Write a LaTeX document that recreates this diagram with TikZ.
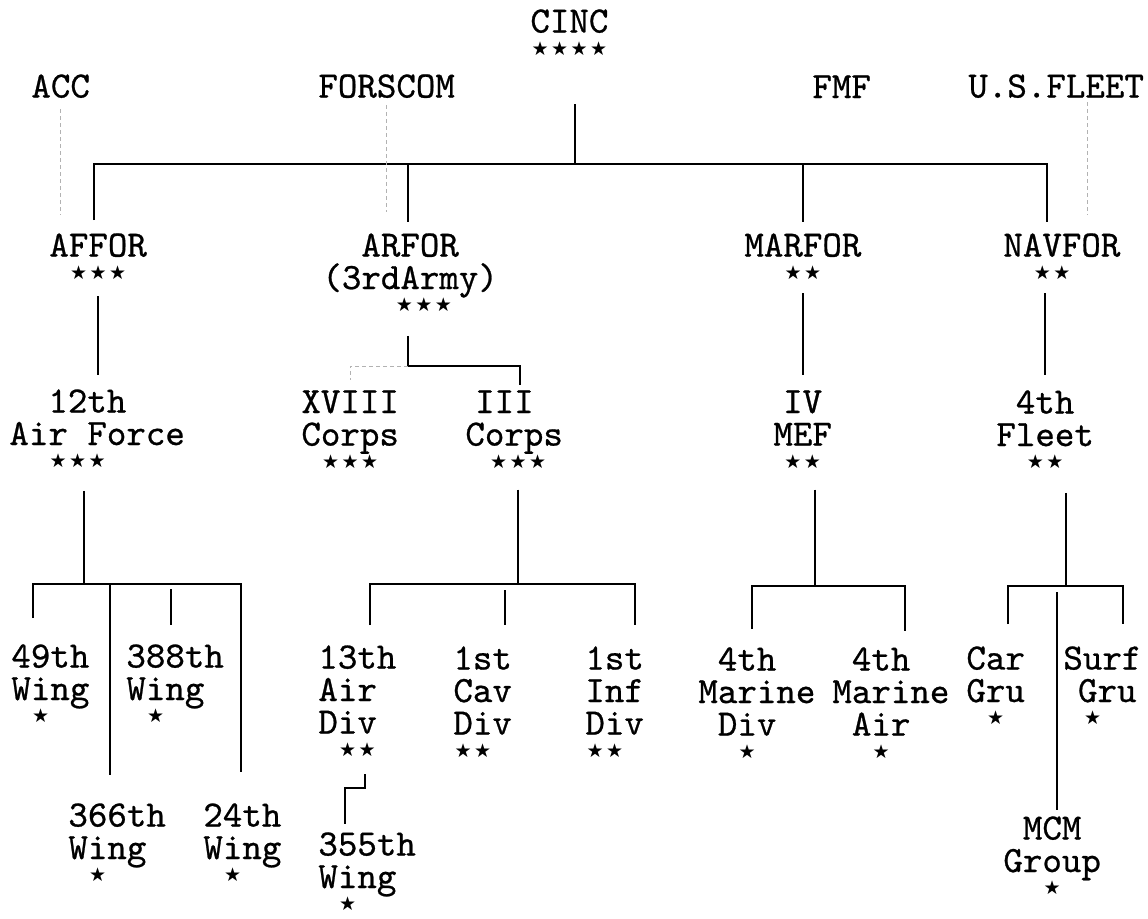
\documentclass[tikz,border=0pt]{standalone}
\usepackage{fontspec}
\newfontfamily\chartfont{lmmono10-regular.otf}[FakeBold=0.7]
\newfontfamily\starfont{DejaVu Sans}
\newlength{\cw}
\setlength{\cw}{9.75pt}
\newcommand{\cells}[1]{\hspace*{#1\cw}}
\newcommand{\rk}{\makebox[\cw]{\raisebox{4.9pt}{\fontsize{9.5}{9.5}\selectfont\starfont ★}}}

\begin{document}
\begin{tikzpicture}[x=0.5pt, y=-0.5pt,
    unit/.style={anchor=north west, inner sep=0pt, align=left, font=\chartfont\fontsize{18.57}{16.25}\selectfont},
    ln/.style={line width=1.2pt},
    dsh/.style={gray!60, line width=0.5pt, dash pattern=on 2pt off 1.5pt}]
  \useasboundingbox (0,0) rectangle (1148,918);

  \node[unit] (cinc) at (530,9) {CINC\\\rk\rk\rk\rk};
  \node[unit] (acc) at (31,74) {ACC};
  \node[unit] (forscom) at (318,74) {FORSCOM};
  \node[unit] (fmf) at (812,75) {FMF};
  \node[unit] (usfleet) at (968,74) {U.S.FLEET};

  \node[unit] (affor) at (49,233) {AFFOR\\\cells{1}\rk\rk\rk};
  \node[unit] (arfor) at (322,233) {\cells{2}ARFOR\\(3rdArmy)\\\cells{3.7}\rk\rk\rk};
  \node[unit] (marfor) at (744,233) {MARFOR\\\cells{2}\rk\rk};
  \node[unit] (navfor) at (1003,233) {NAVFOR\\\cells{1.5}\rk\rk};

  \node[unit] (af12) at (9,389) {\cells{2}12th\\Air Force\\\cells{2}\rk\rk\rk};
  \node[unit] (xviii) at (301,390) {XVIII\\Corps\\\cells{1}\rk\rk\rk};
  \node[unit] (iii) at (465,390) {\cells{0.5}III\\Corps\\\cells{1.2}\rk\rk\rk};
  \node[unit] (mef4) at (773,390) {\cells{0.5}IV\\MEF\\\cells{0.5}\rk\rk};
  \node[unit] (flt4) at (996,390) {\cells{1}4th\\Fleet\\\cells{1.5}\rk\rk};

  \node[unit] (w49) at (11,644) {49th\\Wing\\\cells{1}\rk};
  \node[unit] (w388) at (126,644) {388th\\Wing\\\cells{1}\rk};
  \node[unit] (w366) at (68,803) {366th\\Wing\\\cells{1}\rk};
  \node[unit] (w24) at (203,803) {24th\\Wing\\\cells{1}\rk};
  \node[unit] (ad13) at (318,645) {13th\\Air\\Div\\\cells{1}\rk\rk};
  \node[unit] (w355) at (318,832) {355th\\Wing\\\cells{1}\rk};
  \node[unit] (cav1) at (453,646) {1st\\Cav\\Div\\\rk\rk};
  \node[unit] (inf1) at (585,646) {1st\\Inf\\Div\\\rk\rk};
  \node[unit] (mdiv4) at (698,647) {\cells{1}4th\\Marine\\\cells{1}Div\\\cells{2}\rk};
  \node[unit] (mair4) at (832,647) {\cells{1}4th\\Marine\\\cells{1}Air\\\cells{2}\rk};
  \node[unit] (cargru) at (966,646) {Car\\Gru\\\cells{1}\rk};
  \node[unit] (surfgru) at (1063,646) {Surf\\\cells{0.75}Gru\\\cells{1}\rk};
  \node[unit] (mcm) at (1003,816) {\cells{1}MCM\\Group\\\cells{2}\rk};

  \coordinate (cincj) at (575,164);
  \coordinate (bl) at (94,164);
  \coordinate (b2) at (408,164);
  \coordinate (b3) at (803,164);
  \coordinate (br) at (1047,164);
  \draw[ln, shorten >=19.5pt] (cincj) -- (cincj |- cinc.south);
  \draw[ln, shorten <=6.5pt, shorten >=5.5pt] (bl |- affor.north) -- (bl) -- (br) -- (br |- navfor.north);
  \draw[ln, shorten >=5.5pt] (b2) -- (b2 |- arfor.north);
  \draw[ln, shorten >=5.5pt] (b3) -- (b3 |- marfor.north);

  \draw[dsh, shorten <=5.5pt, shorten >=9pt] (acc.south) -- (acc.south |- affor.north);
  \draw[dsh, shorten <=3.5pt, shorten >=10.5pt] (forscom.south) -- (forscom.south |- arfor.north);
  \draw[dsh, shorten <=2pt, shorten >=9pt] ([xshift=15.5pt]usfleet.south) -- ([xshift=15.5pt]usfleet.south |- navfor.north);

  \draw[ln, shorten <=3.5pt, shorten >=7pt] (affor.south) -- (affor.south |- af12.north);
  \coordinate (aj) at (408,366);
  \coordinate (aj2) at (520,366);
  \draw[ln, shorten <=7pt, shorten >=2.5pt] (aj |- arfor.south) -- (aj) -- (aj2) -- (aj2 |- iii.north);
  \draw[dsh, shorten >=5pt] (aj) -| (xviii.north);
  \draw[ln, shorten <=2pt, shorten >=7.5pt] (marfor.south) -- (marfor.south |- mef4.north);
  \coordinate (nv) at (1045,300);
  \draw[ln, shorten <=2pt, shorten >=7.5pt] (nv |- navfor.south) -- (nv |- flt4.north);

  \coordinate (wj) at (84,584);
  \coordinate (w1) at (33,584);
  \coordinate (w2) at (110,584);
  \coordinate (w3) at (171,584);
  \coordinate (w4) at (241,584);
  \draw[ln, shorten <=6.5pt] (wj |- af12.south) -- (wj);
  \draw[ln, shorten <=13pt, shorten >=15.5pt] (w1 |- w49.north) -- (w1) -- (w4) -- (w4 |- w24.north);
  \draw[ln, shorten >=14pt] (w2) -- (w2 |- w366.north);
  \draw[ln, shorten <=2.5pt, shorten >=9.5pt] (w3) -- (w3 |- w388.north);

  \coordinate (cj) at (518,584);
  \coordinate (c1) at (370,584);
  \coordinate (c2) at (505,584);
  \coordinate (c3) at (635,584);
  \draw[ln, shorten <=5.5pt] (cj |- iii.south) -- (cj);
  \draw[ln, shorten <=10pt, shorten >=10.5pt] (c1 |- ad13.north) -- (c1) -- (c3) -- (c3 |- inf1.north);
  \draw[ln, shorten <=3pt, shorten >=10.5pt] (c2) -- (c2 |- cav1.north);

  \coordinate (dj1) at (365,788);
  \coordinate (dj2) at (345,788);
  \draw[ln, shorten <=4pt, shorten >=4pt] (dj1 |- ad13.south) -- (dj1) -- (dj2) -- (dj2 |- w355.north);

  \coordinate (mj) at (815,586);
  \coordinate (m1) at (752,586);
  \coordinate (m2) at (905,586);
  \draw[ln, shorten <=5.5pt] (mj |- mef4.south) -- (mj);
  \draw[ln, shorten <=9pt, shorten >=8pt] (m1 |- mdiv4.north) -- (m1) -- (m2) -- (m2 |- mair4.north);

  \coordinate (nj) at (1066,586);
  \coordinate (n1) at (1008,586);
  \coordinate (n2) at (1123,586);
  \coordinate (n3) at (1057,586);
  \draw[ln, shorten <=7pt] (nj |- flt4.south) -- (nj);
  \draw[ln, shorten <=11pt, shorten >=11pt] (n1 |- cargru.north) -- (n1) -- (n2) -- (n2 |- surfgru.north);
  \draw[ln, shorten <=3pt, shorten >=3pt] (n3) -- (n3 |- mcm.north);
\end{tikzpicture}
\end{document}
